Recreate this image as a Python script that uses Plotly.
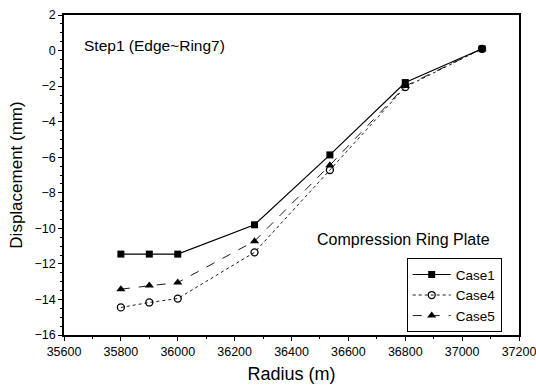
import plotly.graph_objects as go

radius = [35800, 35900, 36000, 36270, 36535, 36800, 37070]
case1 = [-11.45, -11.45, -11.45, -9.8, -5.87, -1.8, 0.1]
case4 = [-14.45, -14.17, -13.95, -11.35, -6.72, -2.05, 0.1]
case5 = [-13.42, -13.22, -13.05, -10.72, -6.45, -2.0, 0.1]
x_ticks = [35600, 35800, 36000, 36200, 36400, 36600, 36800, 37000, 37200]

font = dict(family="Liberation Sans, Arial, sans-serif", color="black")

fig = go.Figure()
fig.add_trace(go.Scatter(x=radius, y=case1, name="Case1", mode="lines+markers",
                         line=dict(color="black", width=1.2),
                         marker=dict(symbol="square", size=7, color="black")))
fig.add_trace(go.Scatter(x=radius, y=case4, name="Case4", mode="lines+markers",
                         line=dict(color="black", width=0.9, dash="dot"),
                         marker=dict(symbol="circle-open", size=7, color="black",
                                     line=dict(width=1.3))))
fig.add_trace(go.Scatter(x=radius, y=case5, name="Case5", mode="lines+markers",
                         line=dict(color="black", width=0.9, dash="dash"),
                         marker=dict(symbol="triangle-up", size=8, color="black")))

axis_common = dict(showgrid=False, zeroline=False, showline=True, linecolor="black",
                   linewidth=1.5, mirror=True, ticks="outside", ticklen=4,
                   tickwidth=1.2, tickcolor="black", tickformat="d",
                   tickfont=dict(size=12.5, **font), ticklabeloverflow="allow",
                   automargin=False,
                   minor=dict(ticks="outside", ticklen=2, tickcolor="black"))

fig.update_xaxes(range=[35600, 37200], tickvals=x_ticks, ticktext=[str(v) for v in x_ticks],
                 title=dict(text="Radius (m)", font=dict(size=18, **font), standoff=10),
                 **axis_common)
fig.update_yaxes(range=[-16, 2], dtick=2, tick0=-16,
                 title=dict(text="Displacement (mm)", font=dict(size=17, **font), standoff=8),
                 **axis_common)

fig.add_annotation(x=0.04, y=0.905, xref="paper", yref="paper", xanchor="left",
                   yanchor="middle", showarrow=False, text="Step1 (Edge~Ring7)",
                   font=dict(size=15.5, **font))
fig.add_annotation(x=0.94, y=0.3, xref="paper", yref="paper", xanchor="right",
                   yanchor="middle", showarrow=False, text="Compression Ring Plate",
                   font=dict(size=16, **font))

fig.update_layout(
    width=536, height=387,
    margin=dict(l=64, r=17, t=15, b=52),
    plot_bgcolor="white", paper_bgcolor="white",
    font=font,
    legend=dict(x=0.962, y=0.24, xanchor="right", yanchor="top",
                bgcolor="white", bordercolor="black", borderwidth=1,
                font=dict(size=13.5, **font), tracegroupgap=0, itemwidth=38),
    showlegend=True,
)

fig.write_html("out.html", config={"displayModeBar": False},
               post_script="document.body.style.margin='0';")
